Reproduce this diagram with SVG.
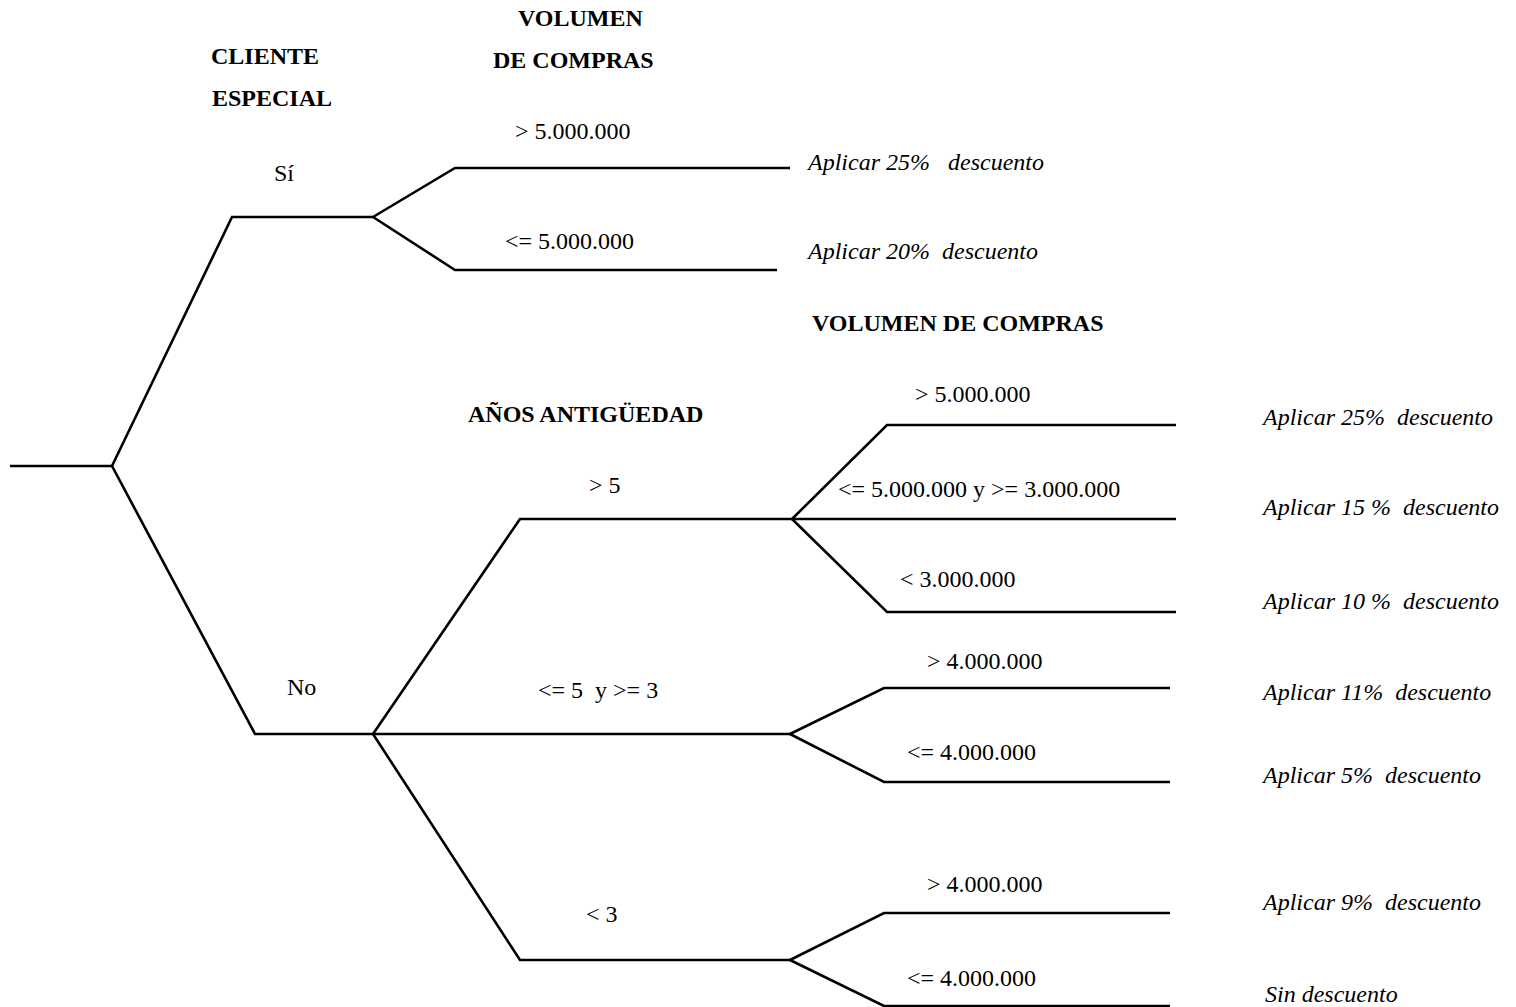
<svg xmlns="http://www.w3.org/2000/svg" width="1516" height="1007" viewBox="0 0 1516 1007">
  <style>
    .edge { fill: none; stroke: #000; stroke-width: 2.6; stroke-linejoin: miter; }
    text { font-family: "Liberation Serif", "Times New Roman", serif; font-size: 24px; fill: #000; white-space: pre; }
    .head { font-weight: bold; }
    .out { font-style: italic; }
  </style>
  <rect width="1516" height="1007" fill="#fff"/>

  <!-- column headings -->
  <g id="headings">
    <text class="head" x="211" y="64">CLIENTE</text>
    <text class="head" x="212" y="106">ESPECIAL</text>
    <text class="head" x="518" y="26">VOLUMEN</text>
    <text class="head" x="493" y="68">DE COMPRAS</text>
    <text class="head" x="812" y="331">VOLUMEN DE COMPRAS</text>
    <text class="head" x="468" y="422">AÑOS ANTIGÜEDAD</text>
  </g>

  <!-- tree branches -->
  <g id="connectors">
    <path class="edge" d="M10,466 H112"/>
    <path class="edge" d="M112,466 L232,217 H373"/>
    <path class="edge" d="M112,466 L255,734 H373"/>
    <!-- special client: purchase volume -->
    <path class="edge" d="M373,217 L455,168 H790"/>
    <path class="edge" d="M373,217 L455,270 H777"/>
    <!-- regular client: years of seniority -->
    <path class="edge" d="M373,734 L520,519 H792"/>
    <path class="edge" d="M373,734 H790"/>
    <path class="edge" d="M373,734 L520,960 H790"/>
    <!-- more than 5 years -->
    <path class="edge" d="M792,519 L887,425 H1176"/>
    <path class="edge" d="M792,519 H1176"/>
    <path class="edge" d="M792,519 L887,612 H1176"/>
    <!-- 3 to 5 years -->
    <path class="edge" d="M790,734 L884,688 H1170"/>
    <path class="edge" d="M790,734 L884,782 H1170"/>
    <!-- under 3 years -->
    <path class="edge" d="M790,960 L884,913 H1170"/>
    <path class="edge" d="M790,960 L884,1006 H1170"/>
  </g>

  <!-- branch conditions -->
  <g id="conditions">
    <text x="274" y="181">Sí</text>
    <text x="287" y="695">No</text>
    <text x="515" y="139">&gt; 5.000.000</text>
    <text x="505" y="249">&lt;= 5.000.000</text>
    <text x="589" y="493">&gt; 5</text>
    <text x="538" y="698">&lt;= 5  y &gt;= 3</text>
    <text x="586" y="922">&lt; 3</text>
    <text x="915" y="402">&gt; 5.000.000</text>
    <text x="838" y="497">&lt;= 5.000.000 y &gt;= 3.000.000</text>
    <text x="900" y="587">&lt; 3.000.000</text>
    <text x="927" y="669">&gt; 4.000.000</text>
    <text x="907" y="760">&lt;= 4.000.000</text>
    <text x="927" y="892">&gt; 4.000.000</text>
    <text x="907" y="986">&lt;= 4.000.000</text>
  </g>

  <!-- outcomes -->
  <g id="outcomes">
    <text class="out" x="808" y="170">Aplicar 25%   descuento</text>
    <text class="out" x="808" y="259">Aplicar 20%  descuento</text>
    <text class="out" x="1263" y="425">Aplicar 25%  descuento</text>
    <text class="out" x="1263" y="515">Aplicar 15 %  descuento</text>
    <text class="out" x="1263" y="609">Aplicar 10 %  descuento</text>
    <text class="out" x="1263" y="700">Aplicar 11%  descuento</text>
    <text class="out" x="1263" y="783">Aplicar 5%  descuento</text>
    <text class="out" x="1263" y="910">Aplicar 9%  descuento</text>
    <text class="out" x="1265" y="1002">Sin descuento</text>
  </g>
</svg>
